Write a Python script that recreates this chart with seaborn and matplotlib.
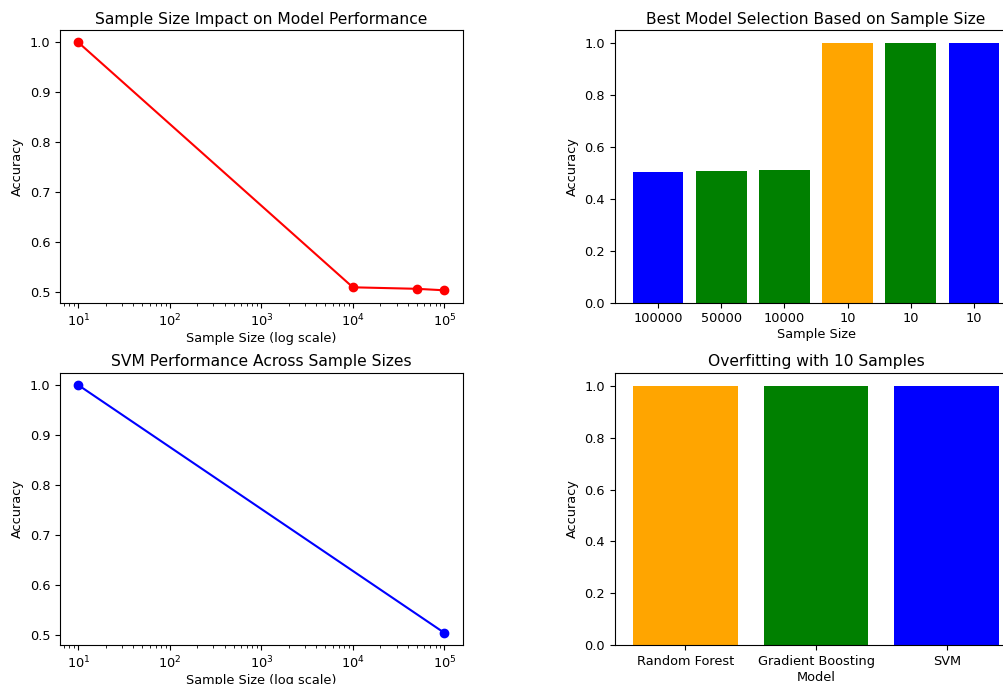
import matplotlib
matplotlib.use("Agg")
import matplotlib.pyplot as plt
import seaborn as sns

# Best accuracy reached at each training-set size
sample_sizes = [10, 10000, 50000, 100000]
best_accuracy = [1.0, 0.510, 0.507, 0.504]

# Winning model per sample size (ties at 10 samples listed separately)
bar_labels = ["100000", "50000", "10000", "10", "10", "10"]
bar_models = ["SVM", "Gradient Boosting", "Gradient Boosting",
              "Random Forest", "Gradient Boosting", "SVM"]
bar_accuracy = [0.504, 0.507, 0.511, 1.0, 1.0, 1.0]

# SVM accuracy at the smallest and largest sample sizes
svm_sizes = [10, 100000]
svm_accuracy = [1.0, 0.504]

# Accuracy of every model trained on 10 samples
models = ["Random Forest", "Gradient Boosting", "SVM"]
overfit_accuracy = [1.0, 1.0, 1.0]

model_colors = {"Random Forest": "#ffa500",
                "Gradient Boosting": "#008000",
                "SVM": "#0000ff"}

TITLE_FS = 11.2
LABEL_FS = 9.3
plt.rcParams.update({
    "font.family": ["DejaVu Sans"],
    "axes.titlesize": TITLE_FS,
    "axes.labelsize": LABEL_FS,
    "xtick.labelsize": LABEL_FS,
    "ytick.labelsize": LABEL_FS,
    "axes.titlepad": 4.5,
    "axes.labelpad": 2.0,
})

W, H = 1004, 684
fig = plt.figure(figsize=(W / 100, H / 100), dpi=100)


def axes_px(x0, y0, x1, y1):
    return fig.add_axes([x0 / W, 1 - y1 / H, (x1 - x0) / W, (y1 - y0) / H])


ax1 = axes_px(60, 30, 462.7, 302.7)
ax2 = axes_px(614.7, 30, 1017.4, 302.7)
ax3 = axes_px(60, 372.7, 462.7, 645.3)
ax4 = axes_px(614.7, 372.7, 1017.4, 645.3)

line_kw = dict(marker="o", markersize=6, markeredgewidth=1, linewidth=1.5)

# Top left: accuracy vs sample size
sns.lineplot(x=sample_sizes, y=best_accuracy, color="red",
             markeredgecolor="red", ax=ax1, **line_kw)
ax1.set_xscale("log")
ax1.set_title("Sample Size Impact on Model Performance")
ax1.set_xlabel("Sample Size (log scale)")
ax1.set_ylabel("Accuracy", labelpad=4)

# Top right: best model for each sample size
positions = list(range(len(bar_labels)))
sns.barplot(x=positions, y=bar_accuracy, hue=positions,
            palette=[model_colors[m] for m in bar_models],
            saturation=1, legend=False, ax=ax2)
ax2.set_xticks(positions, bar_labels)
ax2.relim()
ax2.autoscale(axis="x")
ax2.set_title("Best Model Selection Based on Sample Size")
ax2.set_xlabel("Sample Size")
ax2.set_ylabel("Accuracy", labelpad=4)

# Bottom left: SVM across sample sizes
sns.lineplot(x=svm_sizes, y=svm_accuracy, color="blue",
             markeredgecolor="blue", ax=ax3, **line_kw)
ax3.set_xscale("log")
ax3.set_title("SVM Performance Across Sample Sizes")
ax3.set_xlabel("Sample Size (log scale)")
ax3.set_ylabel("Accuracy", labelpad=4)

# Bottom right: all models with 10 samples
sns.barplot(x=models, y=overfit_accuracy, hue=models,
            palette=[model_colors[m] for m in models],
            saturation=1, legend=False, ax=ax4)
ax4.relim()
ax4.autoscale(axis="x")
ax4.set_title("Overfitting with 10 Samples")
ax4.set_xlabel("Model")
ax4.set_ylabel("Accuracy", labelpad=4)

fig.savefig("out.png", dpi=100)
